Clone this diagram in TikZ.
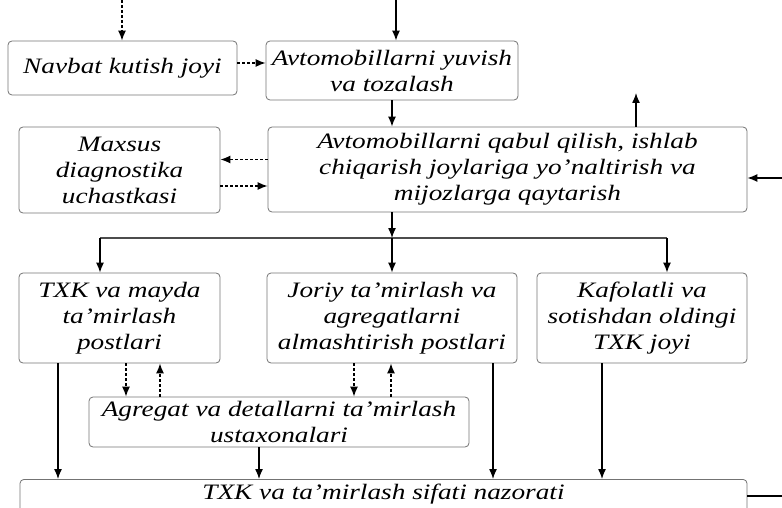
\documentclass[tikz,border=0pt]{standalone}
\usepackage{fontspec}
\setmainfont{Liberation Serif}[FakeStretch=1.24]
\usetikzlibrary{positioning, arrows.meta, calc}

\begin{document}
\begin{tikzpicture}[x=1pt, y=-1pt,
  box/.style={draw=black!55, rounded corners=4pt, align=center, line width=0.8pt,
    font=\fontsize{22}{26}\selectfont\itshape, inner sep=2pt},
  arr/.style={-{Latex[length=10pt,width=8pt]}, line width=1.3pt},
  darr/.style={arr, densely dashed}]
\clip (0,0) rectangle (782,508);

% boxes
\node[box, minimum width=229pt, minimum height=54pt] (navbat) at (122.5,68) {Navbat kutish joyi};
\node[box, minimum width=252pt, minimum height=59pt] (yuvish) at (392,70.5) {Avtomobillarni yuvish\\va tozalash};
\node[box, minimum width=479pt, minimum height=85pt] (qabul) at (507.5,169.5) {Avtomobillarni qabul qilish, ishlab\\chiqarish joylariga yo'naltirish va\\mijozlarga qaytarish};
\node[box, minimum width=201pt, minimum height=86pt] (maxsus) at (119.5,170) {Maxsus\\diagnostika\\uchastkasi};
\node[box, minimum width=201pt, minimum height=90pt] (txk) at (119.5,318) {TXK va mayda\\ta'mirlash\\postlari};
\node[box, minimum width=250pt, minimum height=90pt] (joriy) at (392,318) {Joriy ta'mirlash va\\agregatlarni\\almashtirish postlari};
\node[box, minimum width=210pt, minimum height=90pt] (kafolat) at (642,318) {Kafolatli va\\sotishdan oldingi\\TXK joyi};
\node[box, minimum width=380pt, minimum height=50pt] (agregat) at (279,422) {Agregat va detallarni ta'mirlash\\ustaxonalari};
\node[box, minimum width=727pt, minimum height=60pt, anchor=north, inner ysep=5pt, text depth=36pt] (nazorat) at (383.5,479) {TXK va ta'mirlash sifati nazorati};

% free ends
\coordinate (kirish1) at (122,0);
\coordinate (kirish2) at (396,0);
\coordinate (chiqish) at (636,93);
\coordinate (qaytish) at (782,178);
\coordinate (tarmoq) at (392,238);
\coordinate (tarmoqL) at (100,238);
\coordinate (tarmoqR) at (667,238);

% top part
\draw[darr] (kirish1) -- (kirish1 |- navbat.north);
\draw[arr] (kirish2) -- (kirish2 |- yuvish.north);
\draw[darr] ([yshift=5pt]navbat.east) -- ([yshift=5pt]navbat.east -| yuvish.west);
\draw[arr] (yuvish.south) -- (yuvish.south |- qabul.north);
\draw[arr] (chiqish |- qabul.north) -- (chiqish);
\draw[arr] (qaytish) -- (qaytish -| qabul.east);
\draw[darr] ([yshift=10pt]qabul.west) -- ([yshift=10pt]qabul.west -| maxsus.east);
\draw[darr] ([yshift=-16pt]maxsus.east) -- ([yshift=-16pt]maxsus.east -| qabul.west);

% distribution
\draw[arr] (tarmoq |- qabul.south) -- (tarmoq);
\draw[line width=2.2pt, black!70] (tarmoqL) -- (tarmoqR);
\draw[arr] (tarmoqL) -- (tarmoqL |- txk.north);
\draw[arr] (tarmoq) -- (tarmoq |- joriy.north);
\draw[arr] (tarmoqR) -- (tarmoqR |- kafolat.north);

% workshops
\draw[darr] (126,0 |- txk.south) -- (126,0 |- agregat.north);
\draw[darr] (160,0 |- agregat.north) -- (160,0 |- txk.south);
\draw[darr] (354,0 |- joriy.south) -- (354,0 |- agregat.north);
\draw[darr] (391,0 |- agregat.north) -- (391,0 |- joriy.south);

% quality control
\draw[arr] (58,0 |- txk.south) -- (58,0 |- nazorat.north);
\draw[arr] (259,0 |- agregat.south) -- (259,0 |- nazorat.north);
\draw[arr] (493,0 |- joriy.south) -- (493,0 |- nazorat.north);
\draw[arr] (602,0 |- kafolat.south) -- (602,0 |- nazorat.north);
\draw[line width=1.3pt] ([yshift=-17pt]nazorat.north east) -- ++(40,0);
\end{tikzpicture}
\end{document}
